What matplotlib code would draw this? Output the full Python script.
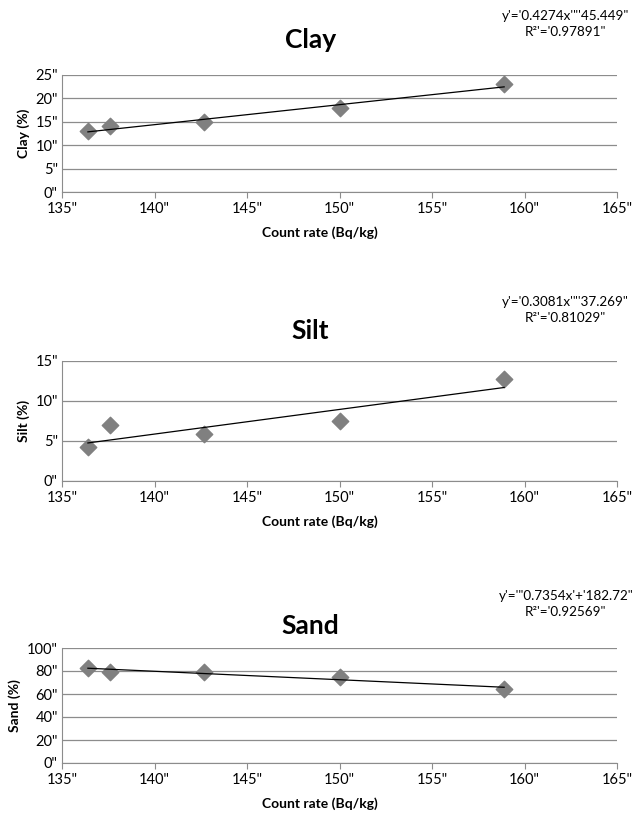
import numpy as np
import matplotlib
matplotlib.use('Agg')
import matplotlib.pyplot as plt
from matplotlib.ticker import FuncFormatter

plt.rcParams['font.family'] = ['Lato', 'DejaVu Sans']

count_rate = [136.4, 137.6, 142.7, 150.0, 158.9]
clay = [13.0, 14.0, 15.0, 18.0, 23.0]
silt = [4.3, 7.0, 5.9, 7.5, 12.8]
sand = [82.5, 79.5, 79.5, 74.5, 64.0]

# wspolczynniki trendu (z rownan na wykresie)
slopes = [0.4274, 0.3081, -0.7354]
intercepts = [-45.449, -37.269, 182.72]

titles = ['Clay', 'Silt', 'Sand']
ylabels = ['Clay (%)', 'Silt (%)', 'Sand (%)']
eq_texts = ["y'='0.4274x'\"'45.449\"", "y'='0.3081x'\"'37.269\"", "y'='\"0.7354x'+'182.72\""]
r2_texts = ["R\u00b2'='0.97891\"", "R\u00b2'='0.81029\"", "R\u00b2'='0.92569\""]
yticks = [[0, 5, 10, 15, 20, 25], [0, 5, 10, 15], [0, 20, 40, 60, 80, 100]]
xticks = [135, 140, 145, 150, 155, 160, 165]

fig = plt.figure(figsize=(6.4, 8.18), dpi=100)

# [bottom, top, title y, eq y] w pikselach
uklad = [(192, 75, 40, 16), (481, 361, 331, 302), (763, 648, 626, 596)]
dane = [clay, silt, sand]

def fmt(v, pos):
    return '%d"' % v

for i in range(3):
    b, t, ty, ey = uklad[i]
    H = 818.0
    ax = fig.add_axes([62 / 640, 1 - b / H, (617 - 62) / 640, (b - t) / H])
    ax.scatter(count_rate, dane[i], marker='D', s=70, color='#808080', zorder=3)
    xs = np.array([count_rate[0], count_rate[-1]])
    ax.plot(xs, slopes[i] * xs + intercepts[i], color='black', lw=0.9, zorder=4)
    ax.set_xlim(135, 165)
    ax.set_ylim(yticks[i][0], yticks[i][-1])
    ax.set_xticks(xticks)
    ax.set_yticks(yticks[i])
    ax.xaxis.set_major_formatter(FuncFormatter(fmt))
    ax.yaxis.set_major_formatter(FuncFormatter(fmt))
    ax.grid(axis='y', color='#8c8c8c', lw=0.9)
    ax.set_axisbelow(True)
    for s in ['top', 'right']:
        ax.spines[s].set_visible(False)
    for s in ['left', 'bottom']:
        ax.spines[s].set_color('#8c8c8c')
    ax.tick_params(axis='x', direction='out', length=4, color='#8c8c8c', labelsize=10.5, pad=3)
    ax.tick_params(axis='y', length=0, labelsize=10.5, pad=3)
    ax.set_xlabel('Count rate (Bq/kg)', fontsize=10, fontweight='bold')
    ax.xaxis.set_label_coords((320 - 62) / 555, -34.0 / (b - t))
    ax.set_ylabel(ylabels[i], fontsize=10, fontweight='bold', labelpad=4)
    fig.text(0.485, 1 - ty / H, titles[i], ha='center', va='center', fontsize=19, fontweight='bold')
    fig.text(0.884, 1 - ey / H, eq_texts[i], ha='center', va='center', fontsize=9.7)
    fig.text(0.884, 1 - (ey + 16) / H, r2_texts[i], ha='center', va='center', fontsize=9.7)

fig.savefig('out.png', dpi=100)
